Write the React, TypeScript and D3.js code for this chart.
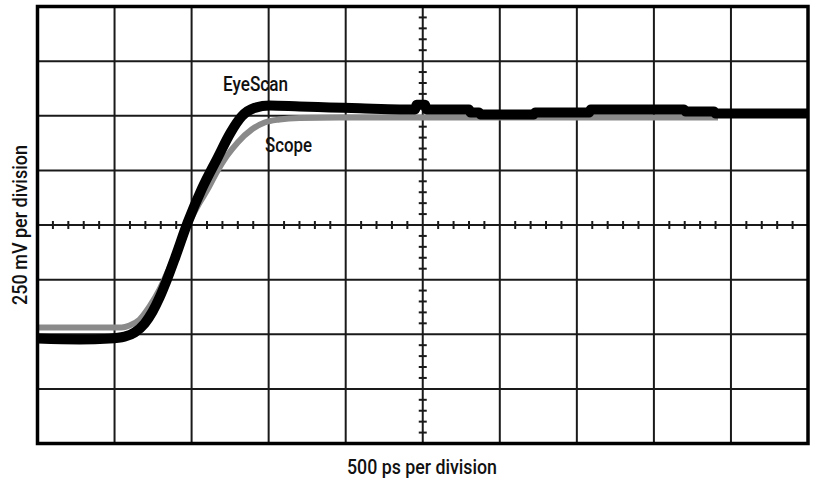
import React from "react";
import * as d3 from "d3";

// Time in ps, amplitude in mV
const eyeScanTime = [0, 273, 468, 565, 630, 695, 747, 792, 838, 896, 974, 1065, 1169, 1253, 1325, 1409, 1507, 1701, 1896, 2091, 2351, 2450, 2460, 2515, 2525, 2800, 2810, 2865, 2875, 3220, 3230, 3580, 3590, 4195, 4205, 4390, 4400, 5000];
const eyeScanMv = [-520, -524, -520, -511, -492, -451, -396, -332, -254, -144, 11, 163, 308, 423, 497, 536, 547, 542, 538, 534, 529, 529, 550, 550, 529, 529, 515, 515, 506, 506, 515, 515, 529, 529, 520, 520, 510, 510];

const scopeTime = [0, 545, 597, 662, 727, 792, 857, 922, 987, 1045, 1104, 1162, 1227, 1299, 1390, 1474, 1571, 1701, 1961, 4416];
const scopeMv = [-469, -469, -460, -433, -373, -295, -195, -89, 16, 94, 163, 240, 314, 378, 437, 469, 483, 490, 492, 492];

const xDivTicks = [0, 500, 1000, 1500, 2000, 2500, 3000, 3500, 4000, 4500, 5000];
const yDivTicks = [-1000, -750, -500, -250, 0, 250, 500, 750, 1000];

const xLabel = "500 ps per division";
const yLabel = "250 mV per division";
const eyeScanLabel = "EyeScan";
const scopeLabel = "Scope";

export default function App() {
  const W = 816, H = 485;
  const x = d3.scaleLinear().domain([0, 5000]).range([37.5, 808]);
  const y = d3.scaleLinear().domain([-1000, 1000]).range([443.5, 6.5]);

  const line = d3
    .line<[number, number]>()
    .x((d) => x(d[0]))
    .y((d) => y(d[1]))
    .curve(d3.curveMonotoneX);

  const eye: [number, number][] = eyeScanTime.map((t, i) => [t, eyeScanMv[i]]);
  const scope: [number, number][] = scopeTime.map((t, i) => [t, scopeMv[i]]);

  const minorX = d3.range(0, 5001, 100).filter((t) => t % 500 !== 0);
  const minorY = d3.range(-1000, 1001, 50).filter((v) => v % 250 !== 0);

  const font = "'Liberation Sans Narrow', 'Arial Narrow', Roboto, sans-serif";
  const gridColor = "#1a1a1a";
  const textProps = { fontFamily: font, fontSize: 20.5, fontWeight: 500, fill: "#111" };

  return (
    <svg
      width={W}
      height={H}
      style={{ position: "absolute", left: 0, top: 0, background: "#fff" }}
    >
      {/* grid */}
      {xDivTicks.slice(1, -1).map((t) => (
        <line key={"gx" + t} x1={x(t)} x2={x(t)} y1={y(1000)} y2={y(-1000)} stroke={gridColor} strokeWidth={2} />
      ))}
      {yDivTicks.slice(1, -1).map((v) => (
        <line key={"gy" + v} x1={x(0)} x2={x(5000)} y1={y(v)} y2={y(v)} stroke={gridColor} strokeWidth={2} />
      ))}
      {/* minor ticks on center axes */}
      {minorX.map((t) => (
        <line key={"mx" + t} x1={x(t)} x2={x(t)} y1={y(0) - 4} y2={y(0) + 4} stroke={gridColor} strokeWidth={2} />
      ))}
      {minorY.map((v) => (
        <line key={"my" + v} x1={x(2500) - 4} x2={x(2500) + 4} y1={y(v)} y2={y(v)} stroke={gridColor} strokeWidth={2} />
      ))}
      {/* traces */}
      <path d={line(scope) || ""} fill="none" stroke="#8a8a8a" strokeWidth={6} />
      <path d={line(eye) || ""} fill="none" stroke="#000" strokeWidth={10} />
      {/* frame */}
      <rect x={x(0)} y={y(1000)} width={x(5000) - x(0)} height={y(-1000) - y(1000)} fill="none" stroke="#000" strokeWidth={3.5} />
      {/* labels */}
      <text x={223} y={91} {...textProps} textLength={65} lengthAdjust="spacingAndGlyphs">
        {eyeScanLabel}
      </text>
      <text x={265} y={152} {...textProps} textLength={47} lengthAdjust="spacingAndGlyphs">
        {scopeLabel}
      </text>
      <text x={347} y={474} {...textProps} textLength={150} lengthAdjust="spacingAndGlyphs">
        {xLabel}
      </text>
      <text
        transform="translate(27,305) rotate(-90)"
        x={0}
        y={0}
        {...textProps}
        textLength={160}
        lengthAdjust="spacingAndGlyphs"
      >
        {yLabel}
      </text>
    </svg>
  );
}
